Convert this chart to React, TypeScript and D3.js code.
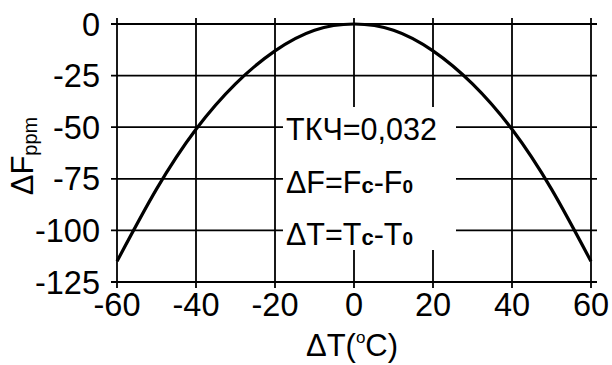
import React from "react";
import * as d3 from "d3";

// readings, every 10 degrees
const deltaT = [-60, -50, -40, -30, -20, -10, 0, 10, 20, 30, 40, 50, 60];
const deltaF = [-115, -80, -51, -29, -13, -3, 0, -3, -13, -29, -51, -80, -115];

const xTicks = [-60, -40, -20, 0, 20, 40, 60];
const yTicks = [0, -25, -50, -75, -100, -125];

const W = 612;
const H = 365;
const FONT = "'Liberation Sans', Arial, sans-serif";

export default function App() {
  const x = d3.scaleLinear().domain([-60, 60]).range([117, 591]);
  const y = d3.scaleLinear().domain([-125, 0]).range([282, 24]);

  const pts: [number, number][] = deltaT.map((t, i) => [t, deltaF[i]]);
  const line = d3
    .line<[number, number]>()
    .x((d) => x(d[0]))
    .y((d) => y(d[1]))
    .curve(d3.curveNatural);

  const x0 = x.range()[0];
  const x1 = x.range()[1];
  const yTop = y.range()[1];
  const yBot = y.range()[0];
  const tk = 6;

  return (
    <div style={{ position: "absolute", left: 0, top: 0 }}>
      <svg width={W} height={H} style={{ display: "block", background: "#fff" }} fontFamily={FONT}>
        <rect x={0} y={0} width={W} height={H} fill="#fff" />
        {/* grid */}
        <g stroke="#000" strokeWidth={1.8}>
          {yTicks.map((v) => (
            <line key={"h" + v} x1={x0 - tk} x2={x1 + tk} y1={y(v)} y2={y(v)} />
          ))}
          {xTicks.map((v) => (
            <line key={"v" + v} x1={x(v)} x2={x(v)} y1={yTop - tk} y2={yBot + tk} />
          ))}
        </g>
        <path d={line(pts) || ""} fill="none" stroke="#000" strokeWidth={3.2} />

        {/* tick labels */}
        <g fontSize={32.5} fill="#000">
          {yTicks.map((v) => (
            <text key={"yl" + v} x={100} y={y(v) + 11.5} textAnchor="end">
              {v}
            </text>
          ))}
          {xTicks.map((v) => (
            <text key={"xl" + v} x={x(v)} y={yBot + 34} textAnchor="middle">
              {v}
            </text>
          ))}
        </g>

        {/* axis titles */}
        <text x={x(0) - 2} y={356} textAnchor="middle" fontSize={31}>
          ΔT(
          <tspan fontSize={17} dy={-13}>o</tspan>
          <tspan dy={13}>C)</tspan>
        </text>
        <text transform={`translate(33,${156}) rotate(-90)`} textAnchor="middle" fontSize={31}>
          ΔF
          <tspan fontSize={20} dy={4}>ppm</tspan>
        </text>

        {/* annotation */}
        <rect x={283} y={107} width={173} height={143} fill="#fff" />
        <g fontSize={30.5} fill="#000">
          <text x={286} y={140}>ТКЧ=0,032</text>
          <text x={286} y={193}>
            ΔF=F<tspan fontSize={22} fontWeight="bold">c</tspan>-F<tspan fontSize={19} fontWeight="bold">0</tspan>
          </text>
          <text x={286} y={245}>
            ΔT=T<tspan fontSize={22} fontWeight="bold">c</tspan>-T<tspan fontSize={19} fontWeight="bold">0</tspan>
          </text>
        </g>
      </svg>
    </div>
  );
}
